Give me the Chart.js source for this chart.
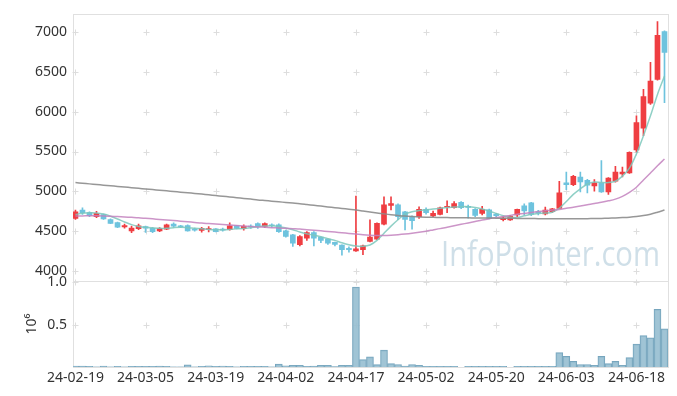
<!DOCTYPE html>
<html>
<head>
<meta charset="utf-8">
<script src="https://cdn.jsdelivr.net/npm/chart.js@4.4.1/dist/chart.umd.min.js"></script>
<style>
  html, body { margin: 0; padding: 0; background: #fff; }
  #wrap { position: relative; width: 677px; height: 396px; }
</style>
</head>
<body>
<div id="wrap"><canvas id="chart" width="677" height="396"></canvas></div>
<script>
// x tick labels (trading-day index -> date)
const tickPos = [0, 10, 20, 30, 40, 50, 60, 70, 80];
const tickLabels = ["24-02-19", "24-03-05", "24-03-19", "24-04-02", "24-04-17", "24-05-02", "24-05-20", "24-06-03", "24-06-18"];
const priceTicks = [4000, 4500, 5000, 5500, 6000, 6500, 7000];
const volTicks = [0.5, 1.0];

// daily candles
const openP = [4657, 4762, 4729, 4679, 4704, 4641, 4604, 4548, 4500, 4529,
  4554, 4532, 4500, 4520, 4585, 4562, 4566, 4522, 4504, 4516,
  4525, 4522, 4516, 4566, 4529, 4560, 4591, 4557, 4575, 4575,
  4500, 4450, 4325, 4408, 4479, 4420, 4395, 4354, 4320, 4279,
  4248, 4263, 4366, 4395, 4585, 4820, 4829, 4741, 4679, 4679,
  4770, 4688, 4708, 4798, 4791, 4858, 4810, 4770, 4720, 4766,
  4710, 4641, 4637, 4700, 4816, 4854, 4741, 4712, 4741, 4783,
  5104, 5083, 5179, 5137, 5066, 5104, 4991, 5125, 5216, 5229,
  5520, 5795, 6108, 6408, 7013];
const highP = [4762, 4791, 4740, 4745, 4712, 4650, 4610, 4585, 4560, 4585,
  4560, 4540, 4540, 4585, 4600, 4570, 4575, 4535, 4545, 4555,
  4530, 4535, 4600, 4570, 4575, 4575, 4600, 4600, 4590, 4590,
  4510, 4455, 4440, 4490, 4490, 4425, 4400, 4360, 4325, 4300,
  4937, 4320, 4640, 4600, 4930, 4930, 4840, 4745, 4690, 4804,
  4790, 4750, 4800, 4879, 4870, 4870, 4825, 4780, 4810, 4775,
  4720, 4680, 4695, 4775, 4840, 4860, 4760, 4800, 4785, 5125,
  5241, 5200, 5241, 5150, 5145, 5387, 5170, 5312, 5304, 5495,
  5950, 6283, 6625, 7138, 7020];
const lowP = [4645, 4707, 4680, 4665, 4645, 4590, 4540, 4535, 4478, 4515,
  4480, 4478, 4490, 4515, 4545, 4540, 4495, 4495, 4482, 4485,
  4485, 4495, 4510, 4525, 4510, 4530, 4530, 4540, 4545, 4480,
  4420, 4305, 4310, 4380, 4310, 4350, 4330, 4310, 4195, 4230,
  4240, 4200, 4360, 4390, 4575, 4765, 4640, 4512, 4520, 4658,
  4710, 4680, 4700, 4729, 4785, 4780, 4660, 4680, 4700, 4650,
  4680, 4625, 4630, 4680, 4700, 4690, 4700, 4700, 4730, 4780,
  5020, 5070, 4991, 4979, 5000, 4985, 4958, 5115, 5179, 5225,
  5491, 5700, 6095, 6400, 6116];
const closeP = [4741, 4729, 4691, 4720, 4650, 4595, 4545, 4566, 4535, 4562,
  4535, 4491, 4532, 4575, 4560, 4550, 4500, 4510, 4532, 4528,
  4491, 4510, 4562, 4532, 4557, 4550, 4554, 4591, 4566, 4491,
  4429, 4345, 4429, 4479, 4408, 4379, 4345, 4329, 4263, 4263,
  4272, 4312, 4420, 4595, 4829, 4845, 4679, 4645, 4629, 4770,
  4729, 4720, 4791, 4810, 4845, 4791, 4795, 4695, 4770, 4658,
  4691, 4660, 4685, 4770, 4750, 4707, 4725, 4762, 4779, 4979,
  5083, 5187, 5116, 5075, 5104, 4991, 5166, 5241, 5241, 5491,
  5866, 6191, 6388, 6963, 6750];

// moving averages
const ma5 = [4705, 4722, 4728, 4726, 4712, 4685, 4650, 4612, 4578, 4556,
  4545, 4538, 4532, 4532, 4540, 4545, 4540, 4532, 4525, 4518,
  4515, 4514, 4518, 4525, 4530, 4540, 4552, 4560, 4565, 4555,
  4535, 4515, 4485, 4462, 4445, 4425, 4400, 4380, 4350, 4325,
  4308, 4305, 4322, 4380, 4470, 4560, 4640, 4710, 4740, 4755,
  4765, 4775, 4785, 4795, 4800, 4805, 4805, 4795, 4775, 4750,
  4720, 4690, 4672, 4668, 4690, 4710, 4720, 4725, 4735, 4785,
  4870, 4960, 5030, 5090, 5115, 5110, 5108, 5125, 5190, 5290,
  5470, 5700, 5950, 6220, 6450];
const ma20 = [4687, 4688, 4690, 4690, 4688, 4684, 4680, 4675, 4670, 4665,
  4658, 4651, 4644, 4637, 4630, 4622, 4614, 4606, 4598, 4592,
  4586, 4580, 4574, 4568, 4562, 4556, 4550, 4545, 4540, 4536,
  4532, 4527, 4522, 4515, 4508, 4500, 4492, 4484, 4476, 4468,
  4460, 4452, 4446, 4442, 4442, 4446, 4452, 4460, 4470, 4482,
  4496, 4512, 4528, 4546, 4564, 4582, 4600, 4618, 4636, 4652,
  4668, 4682, 4695, 4708, 4720, 4732, 4743, 4753, 4762, 4770,
  4785, 4798, 4812, 4828, 4845, 4860, 4878, 4900, 4935, 4985,
  5050, 5140, 5230, 5320, 5405];
const ma60 = [5108, 5100, 5092, 5084, 5076, 5068, 5060, 5052, 5044, 5036,
  5028, 5020, 5012, 5004, 4996, 4988, 4980, 4972, 4963, 4954,
  4945, 4936, 4927, 4918, 4909, 4900, 4890, 4882, 4874, 4866,
  4858, 4850, 4842, 4832, 4822, 4812, 4802, 4792, 4782, 4772,
  4762, 4750, 4738, 4726, 4714, 4703, 4694, 4686, 4680, 4675,
  4672, 4670, 4668, 4667, 4666, 4665, 4664, 4663, 4662, 4661,
  4660, 4659, 4658, 4657, 4656, 4655, 4654, 4653, 4652, 4652,
  4652, 4652, 4653, 4654, 4655, 4657, 4660, 4663, 4667, 4672,
  4680, 4692, 4710, 4735, 4762];

// volume in millions of shares
const volume = [0.01, 0.01, 0.008, 0.002, 0.01, 0.002, 0.008, 0.002, 0.008, 0.008,
  0.008, 0.008, 0.01, 0.008, 0.002, 0.002, 0.025, 0.002, 0.008, 0.015,
  0.008, 0.012, 0.008, 0.002, 0.008, 0.008, 0.008, 0.008, 0.002, 0.035,
  0.015, 0.02, 0.02, 0.008, 0.01, 0.02, 0.02, 0.005, 0.02, 0.02,
  0.945, 0.087, 0.12, 0.028, 0.2, 0.04, 0.03, 0.01, 0.03, 0.02,
  0.008, 0.008, 0.008, 0.008, 0.008, 0, 0.008, 0.008, 0.008, 0.008,
  0.008, 0.008, 0, 0.008, 0.008, 0.008, 0.008, 0.008, 0.008, 0.17,
  0.125, 0.067, 0.03, 0.03, 0.02, 0.125, 0.04, 0.067, 0.02, 0.11,
  0.27, 0.37, 0.345, 0.68, 0.45];

const UP = "#ef3e42";
const DOWN = "#6ec3de";
const candleColors = openP.map((o, i) => closeP[i] >= o ? UP : DOWN);
const axisFont = { family: "'Noto Sans', 'Open Sans', sans-serif", size: 14 };

// frame, crosshair grid marks and watermark
const framePlugin = {
  id: "frame",
  beforeDatasetsDraw(chart) {
    const { ctx, scales: { x, y, y2 } } = chart;
    ctx.save();
    // watermark
    ctx.font = "34px 'Open Sans', sans-serif";
    ctx.fillStyle = "rgba(160, 192, 210, 0.5)";
    ctx.textBaseline = "alphabetic";
    ctx.fillText("InfoPointer.com", 441, 266, 219);
    // panel borders
    ctx.strokeStyle = "#e0e0e0";
    ctx.lineWidth = 1;
    ctx.strokeRect(Math.round(x.left) + 0.5, Math.round(y.top) + 0.5, Math.round(x.right - x.left), Math.round(y.bottom - y.top));
    ctx.strokeRect(Math.round(x.left) + 0.5, Math.round(y2.top) + 0.5, Math.round(x.right - x.left), Math.round(y2.bottom - y2.top));
    // small crosses where ticks meet
    ctx.strokeStyle = "#dddddd";
    const marks = (sc, vals) => {
      tickPos.forEach(t => {
        const px = Math.round(x.getPixelForValue(t)) + 0.5;
        vals.forEach(v => {
          const py = Math.round(sc.getPixelForValue(v)) + 0.5;
          ctx.beginPath();
          ctx.moveTo(px - 3, py); ctx.lineTo(px + 3, py);
          ctx.moveTo(px, py - 3); ctx.lineTo(px, py + 3);
          ctx.stroke();
        });
      });
    };
    marks(y, priceTicks);
    marks(y2, volTicks);
    ctx.restore();
  }
};

const idx = openP.map((_, i) => i);
const line = (vals, color) => ({
  type: "line",
  data: vals.map((v, i) => ({ x: i, y: v })),
  yAxisID: "y",
  borderColor: color,
  borderWidth: 1.5,
  pointRadius: 0,
  tension: 0.3,
  order: 0
});

new Chart(document.getElementById("chart"), {
  type: "bar",
  data: {
    datasets: [
      line(ma60, "rgba(140, 140, 140, 0.9)"),
      line(ma20, "rgba(195, 130, 190, 0.85)"),
      line(ma5, "rgba(125, 200, 188, 0.85)"),
      {
        // wicks
        data: idx.map(i => ({ x: i, y: [lowP[i], highP[i]] })),
        yAxisID: "y",
        backgroundColor: candleColors,
        barThickness: 1,
        grouped: false,
        order: 2
      },
      {
        // bodies
        data: idx.map(i => ({ x: i, y: [openP[i], closeP[i]] })),
        yAxisID: "y",
        backgroundColor: candleColors,
        barThickness: 5,
        grouped: false,
        order: 1
      },
      {
        data: idx.map(i => ({ x: i, y: volume[i] })),
        yAxisID: "y2",
        backgroundColor: "rgba(150, 190, 208, 0.9)",
        borderColor: "#76a5bd",
        borderWidth: 1,
        barThickness: 7,
        grouped: false,
        order: 1
      }
    ]
  },
  options: {
    responsive: false,
    animation: false,
    layout: { padding: { top: 10, right: 9, left: 0, bottom: 0 } },
    plugins: { legend: { display: false }, tooltip: { enabled: false } },
    scales: {
      x: {
        type: "linear",
        offset: false,
        min: -0.35,
        max: 84.5,
        grid: { display: false, drawTicks: false, offset: false },
        border: { display: false },
        afterBuildTicks: s => { s.ticks = tickPos.map(v => ({ value: v })); },
        afterFit: s => { s.height = 29; s.paddingLeft = 0; s.paddingRight = 0; },
        ticks: {
          callback: (v, i) => tickLabels[i],
          autoSkip: false,
          maxRotation: 0,
          padding: 3,
          color: "#333",
          font: axisFont
        }
      },
      y: {
        position: "left",
        stack: "panel",
        stackWeight: 270,
        weight: 2,
        min: 3867,
        max: 7228,
        grid: { display: false, drawTicks: false },
        border: { display: false },
        afterBuildTicks: s => { s.ticks = priceTicks.map(v => ({ value: v })); },
        afterFit: s => { s.width = 73; },
        ticks: { padding: 6, color: "#333", font: axisFont, callback: v => String(v) }
      },
      y2: {
        position: "left",
        stack: "panel",
        stackWeight: 87,
        weight: 1,
        min: 0,
        max: 1.015,
        grid: { display: false, drawTicks: false },
        border: { display: false },
        afterBuildTicks: s => { s.ticks = volTicks.map(v => ({ value: v })); },
        afterFit: s => { s.width = 73; },
        title: { display: true, text: "10⁶", color: "#333", font: axisFont, padding: { top: 24, bottom: 0 } },
        ticks: { padding: 6, color: "#333", font: axisFont, callback: v => v.toFixed(1) }
      }
    }
  },
  plugins: [framePlugin]
});
</script>
</body>
</html>
